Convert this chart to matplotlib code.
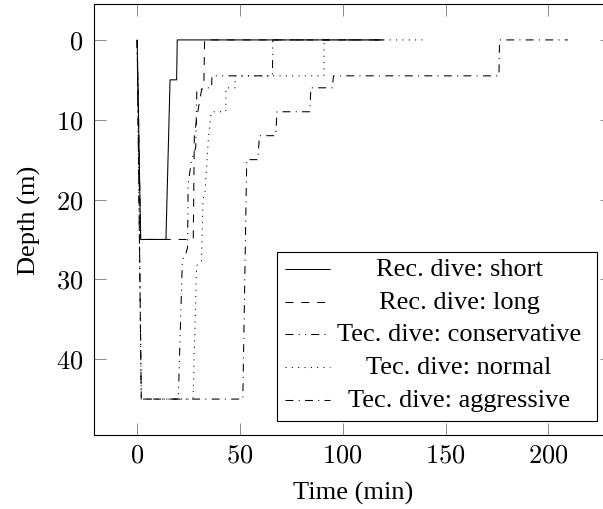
import matplotlib
matplotlib.use("Agg")
import matplotlib.pyplot as plt
from matplotlib.patches import Rectangle

# dive profiles: time (min), depth (m)
short_t = [0, 1.7, 14, 16, 19.2, 19.5, 120]
short_d = [0, 25, 25, 5, 5, 0, 0]

long_t = [0, 1.7, 27.3, 27.8, 29.5, 31.5, 32.5, 32.8, 120]
long_d = [0, 25, 25, 12, 9, 6, 5, 0, 0]

cons_t = [0, 2, 20, 22, 23.5, 24.5, 24.8, 26.5, 28.5, 29, 33, 36.2, 36.4, 65.8, 66, 120]
cons_d = [0, 45, 45, 27.5, 27, 26, 18, 15, 13.5, 6.5, 6, 6, 4.5, 4.5, 0, 0]

norm_t = [0, 2, 27.2, 28.9, 31.3, 32, 33, 34.6, 35.8, 36.3, 43.1, 43.2, 47.6, 47.7, 90.8, 91, 139]
norm_d = [0, 45, 45, 28.3, 27.7, 20, 19, 12.5, 9.5, 9, 9, 6, 6, 4.5, 4.5, 0, 0]

aggr_t = [0, 2, 51.4, 53.3, 58.7, 59.5, 67.4, 68, 84, 84.5, 95, 95.5, 176, 176.3, 209.5]
aggr_d = [0, 45, 45, 15, 15, 12, 12, 9, 9, 6, 6, 4.5, 4.5, 0, 0]

labels = ["Rec. dive: short", "Rec. dive: long", "Tec. dive: conservative",
          "Tec. dive: normal", "Tec. dive: aggressive"]

x_ticks = [0, 50, 100, 150, 200]
y_ticks = [0, 10, 20, 30, 40]

plt.rcParams['mathtext.fontset'] = 'cm'
plt.rcParams['lines.scale_dashes'] = False
plt.rcParams['font.family'] = ['Liberation Serif', 'DejaVu Serif']
fs = 19
lw = 0.76

# tikz-like dash patterns (in points at 100 dpi)
styles = [
    (0, ()),
    (0, (5.7, 5.7)),
    (0, (5.7, 3.8, lw, 3.8, lw, 3.8)),
    (0, (lw, 3.8)),
    (0, (5.7, 3.8, lw, 3.8)),
]

fig = plt.figure(figsize=(6.03, 5.10), dpi=100)
ax = fig.add_axes([94 / 603, 74 / 510, 518 / 603, 431 / 510])

series = [(short_t, short_d), (long_t, long_d), (cons_t, cons_d),
          (norm_t, norm_d), (aggr_t, aggr_d)]
for (t, d), ls in zip(series, styles):
    ax.plot(t, d, color='black', lw=lw, linestyle=ls)

ax.set_xlim(-21, 231)
ax.set_ylim(49.5, -4.5)
ax.set_xticks(x_ticks)
ax.set_xticklabels([f'${v}$' for v in x_ticks])
ax.set_yticks(y_ticks)
ax.set_yticklabels([f'${v}$' for v in y_ticks])
ax.tick_params(direction='in', length=8.6, width=0.6, color='#777777',
               labelsize=fs, top=True, right=True)
ax.tick_params(axis='y', pad=7.5)
ax.tick_params(axis='x', pad=7)
for s in ax.spines.values():
    s.set_linewidth(0.8)

ax.set_xlabel('Time (min)', fontsize=fs, labelpad=10.5)
ax.set_ylabel('Depth (m)', fontsize=fs, labelpad=11)

# legend, pgfplots style with centred text
box_l, box_r, box_b, box_t = 0.3533, 0.971, 0.0325, 0.4246
ax.add_patch(Rectangle((box_l, box_b), box_r - box_l, box_t - box_b,
                       transform=ax.transAxes, facecolor='white',
                       edgecolor='black', lw=0.8, zorder=5))
row0, drow = 0.3852, 0.0758
for i, (lab, ls) in enumerate(zip(labels, styles)):
    y = row0 - i * drow
    ax.plot([0.3687, 0.4556], [y, y], transform=ax.transAxes, color='black',
            lw=lw, linestyle=ls, clip_on=False, zorder=6)
    ax.text(0.7046, y, lab, transform=ax.transAxes, ha='center',
            va='center', fontsize=fs, zorder=6)

fig.savefig('out.png', dpi=100)
